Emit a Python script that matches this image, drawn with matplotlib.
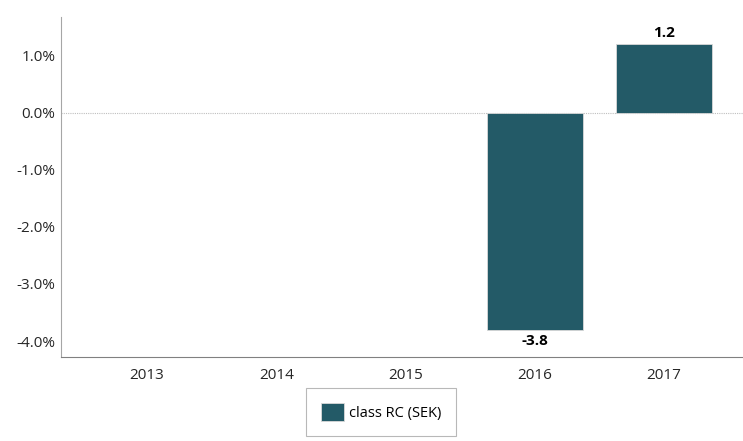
import matplotlib.pyplot as plt
from matplotlib.ticker import FuncFormatter

years = ['2013', '2014', '2015', '2016', '2017']
values = [None, None, None, -3.8, 1.2]
series_name = 'class RC (SEK)'
bar_color = '#235A67'

plt.rcParams['font.family'] = ['Open Sans', 'DejaVu Sans']

fig = plt.figure(figsize=(7.43, 4.41), dpi=100)
ax = fig.add_axes([61 / 743, 1 - 357 / 441, (743 - 61) / 743, (357 - 17) / 441])

xs = [i for i, v in enumerate(values) if v is not None]
vs = [v for v in values if v is not None]
bars = ax.bar(xs, vs, width=0.743, color=bar_color, edgecolor='#d9d9d9', linewidth=0.6,
              label=series_name, zorder=3)

for x, v in zip(xs, vs):
    off = 3 if v > 0 else -3
    ax.annotate(f'{v:.1f}', (x, v), xytext=(0, off), textcoords='offset points',
                ha='center', va='bottom' if v > 0 else 'top',
                fontsize=11, fontweight='bold', color='black')

ax.axhline(0, color='#bfbfbf', linestyle=(0, (1, 1)), linewidth=0.8, zorder=1)

ax.set_xlim(-0.665, 4.61)
ax.set_ylim(-4.28, 1.68)
ax.set_xticks(range(len(years)))
ax.set_xticklabels(years)
ax.set_yticks([1, 0, -1, -2, -3, -4])
ax.yaxis.set_major_formatter(FuncFormatter(lambda y, _: f'{y:.1f}%'))
ax.tick_params(axis='both', length=0, labelsize=11, colors='#262626')
ax.tick_params(axis='x', pad=8)
ax.tick_params(axis='y', pad=4)

for side in ['top', 'right']:
    ax.spines[side].set_visible(False)
ax.spines['left'].set_color('#a6a6a6')
ax.spines['bottom'].set_color('#808080')

leg = ax.legend(loc='upper left', bbox_to_anchor=(306 / 743, 1 - 388 / 441),
                bbox_transform=fig.transFigure, frameon=True, fancybox=False,
                fontsize=10.5, handlelength=1.6, handleheight=1.6, borderpad=1.0,
                borderaxespad=0, handletextpad=0.35)
leg.get_frame().set_edgecolor('#a6a6a6')
leg.get_frame().set_linewidth(0.8)

fig.savefig('out.png', dpi=100)
